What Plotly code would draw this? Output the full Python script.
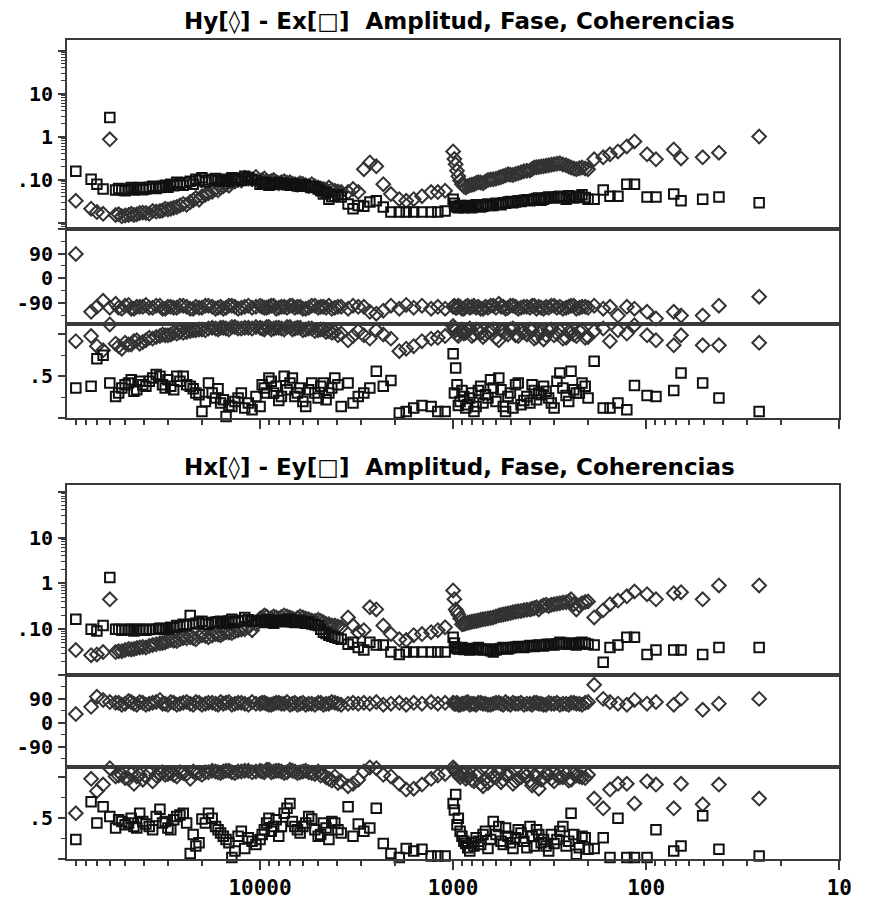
import plotly.graph_objects as go

# ---------------- data ----------------
# main frequency set (Hz)
freq = [90000, 75000, 70000, 65000, 60000, 56000, 52000, 48000, 45000, 42000, 39000, 36000, 33000, 31000,
        29000, 27000, 25000, 23000, 21500, 20000, 18500, 17000, 16000, 15000, 14000, 13000, 12000, 11000,
        10000, 9500, 9000, 8500, 8000, 7500, 7000, 6600, 6200, 5800, 5400, 5000, 4700, 4400, 4100, 3800,
        3500, 3300, 3100,
        2900, 2700, 2500, 2300, 2100, 1900, 1750, 1600, 1450, 1300, 1200, 1100,
        1000, 970, 940, 900, 860, 820, 780, 740, 700, 660, 620, 580, 550, 520, 490, 460, 430, 400, 380,
        360, 340, 320, 300, 280, 260, 245, 230, 215, 200,
        186, 167, 154, 140, 126, 115, 99, 89, 72, 66, 51, 42, 26]
# additional frequencies in the densely sampled bands
freq2 = [54000, 50000, 46500, 43500, 40500, 37500, 34500, 32000, 30000, 28000, 26000, 24000, 22200, 20700,
         19200, 17700, 16500, 15500, 14500, 13500, 12500, 11500, 10500,
         9750, 9250, 8750, 8250, 7750, 7250, 6800, 6400, 6000, 5600, 5200, 4850, 4550, 4250, 3950,
         985, 955, 920, 880, 840, 800, 760, 720, 680, 640, 600, 565, 535, 505, 475, 445, 415, 390, 370,
         350, 330, 310, 290, 270, 252, 237, 222, 207]

# ---- Panel 1: Hy (diamonds) - Ex (squares)
amp1_sq = [0.156, 0.102, 0.078, 0.060, 2.78, 0.057, 0.057, 0.060, 0.057, 0.065, 0.060, 0.070, 0.065, 0.074,
           0.078, 0.087, 0.074, 0.091, 0.102, 0.110, 0.097, 0.106, 0.091, 0.102, 0.110, 0.102, 0.120, 0.102,
           0.078, 0.087, 0.074, 0.082, 0.078, 0.082, 0.074, 0.078, 0.070, 0.074, 0.065, 0.060, 0.046, 0.035,
           0.041, 0.039, 0.027, 0.021, 0.025,
           0.024, 0.030, 0.032, 0.023, 0.0175, 0.0175, 0.0175, 0.0175, 0.0175, 0.0175, 0.0175, 0.0185,
           0.035, 0.024, 0.022, 0.023, 0.024, 0.023, 0.024, 0.025, 0.024, 0.027, 0.025, 0.027, 0.029, 0.030,
           0.029, 0.032, 0.033, 0.032, 0.035, 0.037, 0.035, 0.039, 0.037, 0.041, 0.035, 0.041, 0.039, 0.044, 0.035,
           0.035, 0.057, 0.041, 0.041, 0.078, 0.078, 0.039, 0.039, 0.046, 0.032, 0.035, 0.039, 0.029]
amp1_sq2 = [0.062, 0.055, 0.065, 0.060, 0.058, 0.066, 0.062, 0.070, 0.066, 0.072, 0.080, 0.085, 0.078, 0.095,
            0.088, 0.100, 0.094, 0.098, 0.090, 0.104, 0.095, 0.110, 0.095,
            0.084, 0.080, 0.077, 0.085, 0.080, 0.076, 0.080, 0.072, 0.076, 0.070, 0.068, 0.055, 0.050, 0.040, 0.044,
            0.028, 0.023, 0.025, 0.022, 0.025, 0.022, 0.026, 0.023, 0.026, 0.025, 0.028, 0.026, 0.028, 0.031,
            0.030, 0.031, 0.034, 0.034, 0.036, 0.033, 0.037, 0.038, 0.040, 0.038, 0.042, 0.037, 0.040, 0.038]
amp1_di = [0.032, 0.021, 0.0175, 0.016, 0.86, 0.015, 0.014, 0.015, 0.015, 0.0166, 0.0166, 0.0185, 0.0185, 0.021,
           0.021, 0.023, 0.027, 0.030, 0.037, 0.041, 0.048, 0.060, 0.065, 0.078, 0.087, 0.097, 0.110, 0.102,
           0.091, 0.106, 0.087, 0.097, 0.082, 0.091, 0.087, 0.078, 0.082, 0.074, 0.078, 0.065, 0.060, 0.065,
           0.055, 0.051, 0.051, 0.060, 0.051,
           0.174, 0.25, 0.203, 0.078, 0.046, 0.035, 0.032, 0.035, 0.041, 0.051, 0.051, 0.055,
           0.45, 0.226, 0.12, 0.078, 0.065, 0.074, 0.078, 0.087, 0.082, 0.097, 0.102, 0.110, 0.120, 0.133,
           0.127, 0.14, 0.155, 0.163, 0.19, 0.197, 0.203, 0.215, 0.226, 0.238, 0.215, 0.19, 0.174, 0.19, 0.174,
           0.296, 0.33, 0.386, 0.45, 0.59, 0.77, 0.386, 0.296, 0.50, 0.31, 0.33, 0.42, 1.0]
amp1_di2 = [0.0155, 0.0145, 0.016, 0.0155, 0.017, 0.016, 0.018, 0.019, 0.020, 0.022, 0.025, 0.026, 0.033, 0.034,
            0.044, 0.052, 0.056, 0.070, 0.072, 0.090, 0.095, 0.105, 0.115,
            0.097, 0.092, 0.093, 0.088, 0.086, 0.084, 0.080, 0.076, 0.079, 0.071, 0.070, 0.062, 0.058, 0.057, 0.053,
            0.30, 0.16, 0.095, 0.070, 0.070, 0.076, 0.083, 0.085, 0.090, 0.100, 0.105, 0.115, 0.125, 0.130,
            0.135, 0.148, 0.160, 0.175, 0.193, 0.20, 0.21, 0.22, 0.232, 0.225, 0.20, 0.18, 0.182, 0.18]
pha1_di = [89, -122, -104, -82, -107, -93, -111, -97, -111, -104, -97, -107, -100, -111,
           -104, -107, -100, -111, -104, -107, -100, -111, -104, -107, -100, -111, -104, -107,
           -100, -107, -104, -100, -107, -104, -100, -107, -104, -111, -100, -107, -104, -100,
           -107, -104, -111, -100, -104,
           -104, -122, -129, -118, -100, -111, -97, -107, -100, -111, -104, -111,
           -104, -107, -100, -111, -104, -107, -100, -104, -111, -107, -100, -93, -104, -107,
           -100, -111, -104, -107, -100, -104, -111, -107, -100, -104, -107, -100, -111, -104, -107,
           -100, -111, -104, -136, -104, -111, -122, -147, -122, -136, -136, -100, -67]
pha1_di2 = [-107, -100, -111, -104, -104, -107, -100, -111, -104, -107, -100, -104, -111, -107,
            -100, -104, -107, -111, -100, -104, -107, -100, -104,
            -104, -107, -100, -111, -104, -107, -100, -104, -111, -107, -100, -104, -107, -111, -104,
            -100, -107, -104, -111, -100, -104, -107, -111, -104, -100, -107, -104, -111, -100,
            -104, -107, -104, -100, -111, -107, -104, -100, -107, -111, -104, -100, -107, -104]
coh1_di = [0.92, 0.98, 0.86, 0.81, 1.12, 0.89, 0.83, 0.88, 0.92, 0.89, 0.93, 0.95, 0.98, 0.99,
           1.0, 1.01, 1.02, 1.04, 1.05, 1.06, 1.07, 1.07, 1.08, 1.07, 1.09, 1.07, 1.08, 1.07,
           1.08, 1.06, 1.09, 1.07, 1.08, 1.06, 1.09, 1.07, 1.08, 1.06, 1.07, 1.05, 1.06, 1.04,
           1.03, 1.01, 0.93, 0.98, 1.04,
           0.99, 0.95, 1.05, 1.0, 0.95, 0.80, 0.83, 0.86, 0.92, 0.95, 0.96, 0.98,
           1.10, 1.05, 0.98, 1.06, 1.02, 1.07, 1.0, 1.05, 0.97, 1.03, 1.06, 0.93, 1.04, 1.0,
           1.07, 0.98, 1.03, 1.06, 0.95, 1.02, 0.94, 1.05, 0.99, 1.04, 0.96, 1.02, 0.98, 1.05, 0.97,
           1.04, 1.07, 0.92, 1.05, 1.01, 1.11, 0.99, 0.93, 0.87, 0.99, 0.87, 0.87, 0.90]
coh1_di2 = [0.86, 0.90, 0.88, 0.93, 0.91, 0.96, 0.97, 1.0, 0.99, 1.02, 1.03, 1.03, 1.05, 1.06,
            1.05, 1.08, 1.06, 1.08, 1.06, 1.09, 1.07, 1.08, 1.09,
            1.07, 1.09, 1.06, 1.08, 1.07, 1.09, 1.06, 1.08, 1.05, 1.07, 1.04, 1.06, 1.03, 1.02, 0.99,
            1.07, 1.0, 1.04, 1.01, 1.05, 0.98, 1.06, 1.02, 1.0, 1.04, 0.96, 1.05, 1.02, 1.06,
            0.99, 1.04, 1.0, 1.05, 0.97, 1.03, 0.99, 1.06, 1.01, 0.95, 1.03, 1.0, 1.04, 0.96]
coh1_sq = [0.36, 0.38, 0.71, 0.75, 0.42, 0.26, 0.36, 0.42, 0.32, 0.44, 0.38, 0.48, 0.50, 0.36,
           0.38, 0.50, 0.50, 0.38, 0.30, 0.08, 0.42, 0.24, 0.18, 0.02, 0.14, 0.24, 0.12, 0.10,
           0.14, 0.36, 0.48, 0.30, 0.21, 0.50, 0.42, 0.26, 0.36, 0.14, 0.42, 0.24, 0.42, 0.30,
           0.48, 0.14, 0.42, 0.18, 0.26,
           0.30, 0.36, 0.56, 0.38, 0.45, 0.06, 0.08, 0.12, 0.15, 0.14, 0.08, 0.08,
           0.77, 0.60, 0.15, 0.33, 0.12, 0.24, 0.08, 0.33, 0.18, 0.24, 0.36, 0.48, 0.14, 0.26,
           0.12, 0.42, 0.21, 0.18, 0.33, 0.30, 0.38, 0.24, 0.12, 0.54, 0.27, 0.56, 0.30, 0.42, 0.24,
           0.68, 0.12, 0.12, 0.18, 0.10, 0.39, 0.27, 0.26, 0.33, 0.54, 0.42, 0.24, 0.08]
coh1_sq2 = [0.30, 0.40, 0.46, 0.34, 0.40, 0.44, 0.52, 0.40, 0.46, 0.34, 0.44, 0.40, 0.35, 0.28,
            0.20, 0.30, 0.35, 0.22, 0.15, 0.20, 0.30, 0.18, 0.26,
            0.40, 0.30, 0.44, 0.38, 0.26, 0.34, 0.48, 0.30, 0.20, 0.34, 0.30, 0.38, 0.22, 0.36, 0.40,
            0.30, 0.40, 0.20, 0.26, 0.16, 0.30, 0.14, 0.38, 0.28, 0.46, 0.20, 0.34, 0.08, 0.30,
            0.40, 0.16, 0.26, 0.40, 0.22, 0.28, 0.32, 0.18, 0.44, 0.36, 0.20, 0.34, 0.30, 0.38]

# ---- Panel 2: Hx (diamonds) - Ey (squares)
amp2_sq = [0.164, 0.10, 0.091, 0.12, 1.34, 0.10, 0.095, 0.10, 0.091, 0.10, 0.095, 0.10, 0.105, 0.10,
           0.11, 0.12, 0.128, 0.20, 0.134, 0.148, 0.128, 0.141, 0.148, 0.134, 0.164, 0.148, 0.18, 0.148,
           0.155, 0.14, 0.16, 0.135, 0.15, 0.145, 0.165, 0.14, 0.155, 0.135, 0.13, 0.12, 0.086, 0.074,
           0.067, 0.060, 0.047, 0.052, 0.040,
           0.035, 0.052, 0.045, 0.045, 0.0316, 0.028, 0.0316, 0.0316, 0.0316, 0.0316, 0.0316, 0.0316,
           0.067, 0.040, 0.037, 0.040, 0.037, 0.035, 0.037, 0.040, 0.035, 0.037, 0.0316, 0.037, 0.040, 0.037,
           0.040, 0.042, 0.040, 0.044, 0.042, 0.045, 0.043, 0.047, 0.045, 0.052, 0.047, 0.050, 0.045, 0.052, 0.047,
           0.045, 0.019, 0.040, 0.045, 0.067, 0.067, 0.028, 0.035, 0.035, 0.035, 0.028, 0.040, 0.040]
amp2_sq2 = [0.10, 0.097, 0.10, 0.095, 0.10, 0.098, 0.10, 0.103, 0.10, 0.108, 0.115, 0.12, 0.13, 0.14,
            0.13, 0.14, 0.145, 0.135, 0.15, 0.14, 0.155, 0.16, 0.15,
            0.15, 0.16, 0.145, 0.155, 0.15, 0.16, 0.145, 0.15, 0.14, 0.145, 0.125, 0.10, 0.08, 0.07, 0.063,
            0.05, 0.038, 0.039, 0.036, 0.038, 0.036, 0.038, 0.036, 0.036, 0.034, 0.035, 0.038, 0.038, 0.039,
            0.041, 0.041, 0.042, 0.043, 0.044, 0.044, 0.046, 0.046, 0.048, 0.049, 0.048, 0.048, 0.05, 0.049]
amp2_di = [0.035, 0.027, 0.028, 0.0316, 0.447, 0.0316, 0.033, 0.037, 0.037, 0.040, 0.040, 0.045, 0.049, 0.052,
           0.058, 0.055, 0.064, 0.067, 0.060, 0.074, 0.067, 0.078, 0.074, 0.086, 0.082, 0.095, 0.10, 0.095,
           0.17, 0.20, 0.16, 0.19, 0.17, 0.20, 0.18, 0.16, 0.19, 0.17, 0.155, 0.16, 0.141, 0.128,
           0.12, 0.11, 0.18, 0.12, 0.086,
           0.095, 0.30, 0.27, 0.12, 0.078, 0.060, 0.058, 0.074, 0.078, 0.086, 0.095, 0.11,
           0.70, 0.27, 0.21, 0.128, 0.134, 0.141, 0.148, 0.155, 0.164, 0.17, 0.18, 0.20, 0.21, 0.22,
           0.233, 0.245, 0.26, 0.27, 0.285, 0.27, 0.33, 0.32, 0.35, 0.37, 0.385, 0.447, 0.27, 0.37, 0.40,
           0.18, 0.26, 0.35, 0.42, 0.52, 0.66, 0.58, 0.447, 0.61, 0.64, 0.447, 0.90, 0.90]
amp2_di2 = [0.033, 0.035, 0.036, 0.039, 0.041, 0.043, 0.047, 0.050, 0.055, 0.056, 0.060, 0.063, 0.064, 0.070,
            0.071, 0.073, 0.076, 0.080, 0.085, 0.090, 0.098, 0.11, 0.13,
            0.18, 0.19, 0.175, 0.18, 0.185, 0.19, 0.17, 0.175, 0.18, 0.165, 0.15, 0.15, 0.13, 0.12, 0.115,
            0.45, 0.24, 0.17, 0.13, 0.138, 0.145, 0.15, 0.16, 0.167, 0.175, 0.19, 0.205, 0.215, 0.225,
            0.24, 0.25, 0.265, 0.28, 0.30, 0.31, 0.34, 0.34, 0.36, 0.38, 0.40, 0.35, 0.33, 0.39]
pha2_di = [33, 60, 98, 86, 78, 75, 68, 82, 72, 78, 68, 75, 86, 72,
           78, 68, 75, 72, 78, 68, 75, 72, 78, 75, 68, 75, 72, 78,
           72, 75, 68, 72, 75, 72, 68, 75, 72, 68, 72, 75, 68, 72,
           75, 68, 72, 75, 72,
           75, 72, 78, 68, 72, 75, 68, 75, 72, 78, 72, 75,
           75, 72, 68, 72, 75, 68, 72, 75, 72, 68, 72, 75, 68, 72,
           75, 72, 68, 72, 75, 72, 68, 75, 72, 68, 72, 75, 72, 68, 78,
           143, 90, 78, 72, 68, 86, 72, 78, 68, 90, 49, 72, 90]
pha2_di2 = [75, 72, 78, 68, 75, 72, 78, 72, 68, 75, 72, 78, 68, 75,
            72, 75, 68, 72, 78, 72, 75, 68, 72,
            75, 72, 68, 75, 72, 78, 72, 68, 75, 72, 68, 75, 72, 78, 72,
            72, 75, 68, 72, 78, 72, 68, 75, 72, 68, 75, 72, 78, 68,
            72, 75, 72, 68, 75, 72, 68, 72, 75, 72, 68, 75, 72, 75]
coh2_di = [0.56, 0.98, 0.83, 0.91, 1.11, 1.01, 1.03, 0.98, 0.92, 1.03, 1.01, 0.95, 1.04, 1.03,
           1.05, 1.01, 1.05, 0.98, 1.05, 1.03, 1.06, 1.07, 1.05, 1.08, 1.06, 1.07, 1.08, 1.06,
           1.08, 1.06, 1.09, 1.07, 1.08, 1.05, 1.09, 1.07, 1.06, 1.08, 1.05, 1.07, 1.03, 0.98,
           1.01, 0.95, 0.89, 0.92, 0.97,
           1.07, 1.12, 1.11, 1.03, 1.01, 0.92, 0.85, 0.86, 0.91, 0.98, 1.02, 1.04,
           1.12, 1.07, 1.03, 1.05, 0.98, 1.02, 0.95, 1.04, 0.89, 0.93, 1.01, 1.05, 0.97, 1.03,
           0.92, 0.98, 1.04, 0.96, 1.02, 0.86, 0.99, 1.03, 0.95, 1.0, 1.04, 0.97, 1.02, 1.0, 1.03,
           0.74, 0.62, 0.85, 0.92, 0.92, 0.68, 0.95, 0.91, 0.62, 0.92, 0.67, 0.91, 0.74]
coh2_di2 = [1.02, 0.99, 1.04, 1.01, 0.97, 1.05, 1.02, 1.06, 1.04, 1.03, 1.06, 1.04, 1.07, 1.05,
            1.06, 1.08, 1.06, 1.07, 1.08, 1.05, 1.07, 1.08, 1.07,
            1.07, 1.09, 1.06, 1.08, 1.07, 1.06, 1.08, 1.05, 1.07, 1.06, 1.04, 1.02, 1.0, 0.96, 0.93,
            1.10, 1.05, 1.0, 1.03, 1.0, 0.97, 1.02, 0.92, 0.98, 1.04, 1.0, 0.94, 1.03, 1.05,
            0.95, 1.0, 1.02, 0.90, 1.01, 0.97, 1.04, 0.98, 1.02, 1.0, 0.96, 1.04, 1.01, 0.99]
coh2_sq = [0.24, 0.70, 0.44, 0.64, 0.52, 0.38, 0.46, 0.44, 0.40, 0.56, 0.43, 0.36, 0.61, 0.46,
           0.36, 0.52, 0.56, 0.07, 0.16, 0.49, 0.56, 0.40, 0.32, 0.24, 0.02, 0.28, 0.13, 0.22,
           0.24, 0.36, 0.50, 0.40, 0.28, 0.56, 0.68, 0.40, 0.32, 0.44, 0.49, 0.28, 0.44, 0.24,
           0.44, 0.32, 0.64, 0.28, 0.43,
           0.34, 0.38, 0.62, 0.19, 0.07, 0.02, 0.13, 0.10, 0.12, 0.04, 0.04, 0.04,
           0.68, 0.79, 0.50, 0.28, 0.19, 0.10, 0.16, 0.22, 0.30, 0.13, 0.46, 0.40, 0.18, 0.28,
           0.13, 0.36, 0.22, 0.40, 0.16, 0.30, 0.24, 0.10, 0.19, 0.34, 0.16, 0.56, 0.06, 0.28, 0.12,
           0.13, 0.26, 0.02, 0.50, 0.02, 0.02, 0.02, 0.36, 0.10, 0.16, 0.53, 0.12, 0.04]
coh2_sq2 = [0.48, 0.42, 0.50, 0.38, 0.46, 0.40, 0.52, 0.44, 0.38, 0.48, 0.54, 0.44, 0.30, 0.20,
            0.44, 0.50, 0.36, 0.28, 0.20, 0.10, 0.34, 0.26, 0.18,
            0.30, 0.44, 0.34, 0.48, 0.40, 0.62, 0.46, 0.36, 0.40, 0.52, 0.36, 0.30, 0.38, 0.46, 0.36,
            0.60, 0.42, 0.34, 0.22, 0.14, 0.20, 0.26, 0.18, 0.34, 0.24, 0.30, 0.22, 0.38, 0.20,
            0.26, 0.32, 0.14, 0.28, 0.36, 0.20, 0.16, 0.30, 0.24, 0.40, 0.22, 0.30, 0.14, 0.26]

titles = ["Hy[\u25CA] - Ex[\u25A1]\u00a0\u00a0Amplitud, Fase, Coherencias",
          "Hx[\u25CA] - Ey[\u25A1]\u00a0\u00a0Amplitud, Fase, Coherencias"]
x_tickvals = [10000, 1000, 100, 10]
x_ticktext = ["10000", "1000", "100", "10"]

# ---------------- figure ----------------
W, H = 870, 900
XD = [68 / W, 852 / W]

def ydom(top_px, bot_px):
    return [1 - bot_px / H, 1 - top_px / H]

doms = [ydom(40, 230), ydom(230, 325), ydom(325, 420),
        ydom(487, 678), ydom(678, 770), ydom(770, 863)]

LC = "#3a3a3a"
DC = "#333333"
SC = "#111111"
TICKFONT = dict(family="DejaVu Sans Mono", size=20, color="black", weight="bold")

minor_x = [m * 10 ** e for e in range(1, 5) for m in range(2, 10)]
minor_log_y = [m * 10 ** e for e in range(-3, 3) for m in range(2, 10)]

panels = [
    ((amp1_di, amp1_di2), (amp1_sq, amp1_sq2), (pha1_di, pha1_di2), (coh1_di, coh1_di2), (coh1_sq, coh1_sq2)),
    ((amp2_di, amp2_di2), (amp2_sq, amp2_sq2), (pha2_di, pha2_di2), (coh2_di, coh2_di2), (coh2_sq, coh2_sq2)),
]

fig = go.Figure()

def add_pts(series, k, sym, col, size, lw):
    main, extra = series
    assert len(main) == len(freq) and len(extra) == len(freq2)
    fig.add_trace(go.Scatter(
        x=freq + freq2, y=main + extra, mode="markers",
        xaxis="x" if k == 1 else f"x{k}", yaxis="y" if k == 1 else f"y{k}",
        marker=dict(symbol=sym, size=size, color=col, line=dict(width=lw, color=col)),
        cliponaxis=False, showlegend=False, hoverinfo="skip"))

for p, (a_di, a_sq, ph_di, c_di, c_sq) in enumerate(panels):
    base = 3 * p
    add_pts(a_di, base + 1, "diamond-open", DC, 10.5, 2)
    add_pts(a_sq, base + 1, "square-open", SC, 9.5, 2)
    add_pts(ph_di, base + 2, "diamond-open", DC, 10.5, 2)
    add_pts(c_di, base + 3, "diamond-open", DC, 10.5, 2)
    add_pts(c_sq, base + 3, "square-open", SC, 9.5, 2)

layout = dict(width=W, height=H, margin=dict(l=0, r=0, t=0, b=0),
              paper_bgcolor="white", plot_bgcolor="white", showlegend=False)

for k in range(1, 7):
    xs = "" if k == 1 else str(k)
    ax = dict(type="log", range=[5, 1], autorange=False, domain=XD,
              anchor="y" + xs, showline=True, mirror=True, linecolor=LC, linewidth=2,
              showgrid=False, zeroline=False, showticklabels=False, ticks="")
    if k in (3, 6):
        ax.update(ticks="outside", tickvals=x_tickvals, ticklen=9, tickwidth=2, tickcolor=LC,
                  minor=dict(tickvals=minor_x, ticks="outside", ticklen=5, tickwidth=1.5, tickcolor=LC))
    if k == 6:
        ax.update(showticklabels=True, ticktext=x_ticktext,
                  tickfont=dict(family="DejaVu Sans Mono", size=21, color="black", weight="bold"))
    if k != 1:
        ax["matches"] = "x"
    layout["xaxis" + xs] = ax

    ay = dict(domain=doms[k - 1], anchor="x" + xs, showline=True, mirror=True, linecolor=LC,
              linewidth=2, showgrid=False, zeroline=False, ticks="outside", ticklen=7,
              tickwidth=2, tickcolor=LC, tickfont=TICKFONT, ticklabelstandoff=1)
    kind = (k - 1) % 3
    if kind == 0:
        rng = [-2.15, 2.25] if k == 1 else [-2.0, 2.15]
        ay.update(type="log", range=rng, tickvals=[100, 10, 1, 0.1, 0.01],
                  ticktext=["", "10", "1", ".10", ""],
                  minor=dict(tickvals=minor_log_y, ticks="outside", ticklen=4, tickwidth=1, tickcolor=LC))
    elif kind == 1:
        ay.update(range=[-165, 180], tickvals=[180, 90, 0, -90],
                  ticktext=["", "90", "0", "-90"],
                  minor=dict(tickvals=[135, 45, -45, -135], ticks="outside", ticklen=4, tickwidth=1, tickcolor=LC))
    else:
        ay.update(range=[0, 1.13], tickvals=[0, 0.5, 1], ticktext=["", ".5", ""],
                  minor=dict(tickvals=[0.25, 0.75], ticks="outside", ticklen=4, tickwidth=1, tickcolor=LC))
    layout["yaxis" + xs] = ay

TFONT = dict(family="DejaVu Sans", size=23, color="black", weight="bold")
layout["annotations"] = [
    dict(text=titles[0], x=466 / W, y=1 - 22 / H, xref="paper", yref="paper", showarrow=False,
         font=TFONT, xanchor="center", yanchor="middle"),
    dict(text=titles[1], x=466 / W, y=1 - 470 / H, xref="paper", yref="paper", showarrow=False,
         font=TFONT, xanchor="center", yanchor="middle"),
]

fig.update_layout(**layout)
fig.write_html("out.html")
